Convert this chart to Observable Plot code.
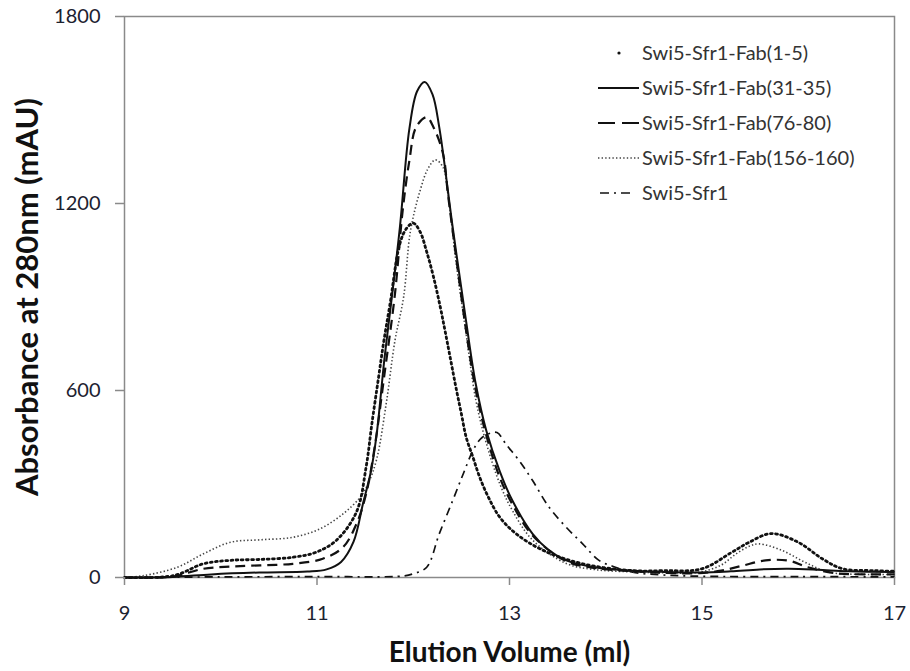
<!DOCTYPE html>
<html><head><meta charset="utf-8">
<script src="https://cdn.jsdelivr.net/npm/d3@7"></script>
<script src="https://cdn.jsdelivr.net/npm/@observablehq/plot@0.6"></script>
<style>
body{margin:0;background:#fff;}
#wrap{position:relative;width:910px;height:671px;font-family:Lato,"Open Sans",sans-serif;}
#wrap svg{position:absolute;left:0;top:0;}
</style></head><body><div id="wrap"></div>
<script>
// Series names (legend order)
const seriesNames = ["Swi5-Sfr1-Fab(1-5)", "Swi5-Sfr1-Fab(31-35)", "Swi5-Sfr1-Fab(76-80)", "Swi5-Sfr1-Fab(156-160)", "Swi5-Sfr1"];

// Axis ticks
const xTicks = [9, 11, 13, 15, 17];
const yTicks = [0, 600, 1200, 1800];

// [elution volume (ml), absorbance (mAU)]
const fab1_5 = [[9.0,0],[9.51,6],[9.82,44],[10.1,55],[10.41,58],[10.75,65],[10.99,81],[11.2,119],[11.41,210],[11.51,354],[11.57,493],[11.64,643],[11.69,750],[11.76,880],[11.86,1070],[11.93,1120],[12.0,1137],[12.07,1110],[12.14,1045],[12.21,965],[12.28,869],[12.33,792],[12.38,712],[12.45,600],[12.5,525],[12.55,450],[12.62,386],[12.69,322],[12.78,258],[12.9,193],[13.07,140],[13.35,87],[13.76,44],[14.28,22],[14.6,22],[15.0,28],[15.31,81],[15.49,113],[15.72,141],[16.0,113],[16.25,60],[16.46,28],[16.8,22],[17.0,20]];

const fab31_35 = [[9.0,0],[9.5,2],[9.9,10],[10.4,16],[10.9,19],[11.1,26],[11.25,50],[11.38,115],[11.48,240],[11.56,340],[11.62,460],[11.7,700],[11.77,880],[11.86,1120],[11.96,1440],[12.04,1560],[12.12,1590],[12.2,1550],[12.27,1445],[12.41,1123],[12.55,820],[12.65,620],[12.76,470],[12.9,340],[13.03,247],[13.24,140],[13.4,90],[13.59,55],[13.9,32],[14.28,22],[14.6,18],[14.97,16],[15.3,20],[15.6,26],[15.9,28],[16.2,25],[16.52,20],[17.0,18]];

const fab76_80 = [[9.0,0],[9.5,3],[9.82,28],[10.1,35],[10.41,39],[10.75,44],[11.06,60],[11.27,97],[11.41,172],[11.51,268],[11.6,420],[11.7,650],[11.81,910],[11.89,1177],[11.96,1338],[12.03,1445],[12.14,1477],[12.21,1445],[12.31,1359],[12.36,1231],[12.45,1017],[12.55,790],[12.65,600],[12.76,455],[12.9,320],[13.03,235],[13.24,135],[13.59,52],[13.9,30],[14.28,20],[14.6,15],[14.97,14],[15.2,22],[15.42,38],[15.66,55],[15.9,54],[16.1,33],[16.38,14],[16.7,10],[17.0,10]];

const fab156_160 = [[9.0,0],[9.2,6],[9.55,33],[9.82,76],[10.1,113],[10.41,121],[10.75,129],[11.03,156],[11.27,204],[11.45,258],[11.53,300],[11.62,380],[11.72,560],[11.81,760],[11.9,900],[11.97,1110],[12.07,1240],[12.15,1310],[12.23,1340],[12.31,1316],[12.36,1231],[12.45,1000],[12.55,780],[12.65,570],[12.76,430],[12.9,300],[13.03,215],[13.24,120],[13.59,45],[13.9,25],[14.28,18],[14.6,15],[14.97,17],[15.2,40],[15.35,75],[15.49,100],[15.59,108],[15.83,87],[16.07,49],[16.32,17],[16.7,10],[17.0,10]];

const swi5sfr1 = [[9.0,0],[10.0,2],[11.0,3],[11.9,5],[12.0,12],[12.14,33],[12.27,140],[12.41,247],[12.52,333],[12.62,407],[12.7,445],[12.79,462],[12.87,465],[12.97,425],[13.1,375],[13.24,311],[13.41,226],[13.59,161],[13.76,108],[13.93,55],[14.1,33],[14.28,17],[14.6,8],[15.0,4],[16.0,3],[17.0,2]];

const allSeries = [fab1_5, fab31_35, fab76_80, fab156_160, swi5sfr1];

// line styles, one per series
const styles = [
  {stroke: "#111", strokeWidth: 2.8, dash: "1.8,3.4", cap: "round"},
  {stroke: "#111", strokeWidth: 2, dash: null, cap: "butt"},
  {stroke: "#111", strokeWidth: 2.2, dash: "10,6", cap: "butt"},
  {stroke: "#444", strokeWidth: 1.6, dash: "1.4,2.2", cap: "butt"},
  {stroke: "#111", strokeWidth: 1.7, dash: "8,5,2,5", cap: "butt"}
];

const W = 910, H = 671;
const gray = "#8a8a8a";
const textFont = "Lato, 'Open Sans', sans-serif";

const lineMarks = allSeries.map((s, i) => Plot.line(s, {
  x: d => d[0], y: d => d[1], curve: "catmull-rom",
  stroke: styles[i].stroke, strokeWidth: styles[i].strokeWidth,
  strokeDasharray: styles[i].dash, strokeLinecap: styles[i].cap
})).reverse();

const chart = Plot.plot({
  width: W, height: H,
  marginLeft: 124, marginRight: 16, marginTop: 16, marginBottom: 94,
  style: {fontFamily: textFont, background: "#fff", overflow: "visible"},
  x: {domain: [9, 17]},
  y: {domain: [0, 1800]},
  marks: [
    Plot.frame({stroke: gray, strokeWidth: 1.5}),
    ...lineMarks,
    Plot.axisX({ticks: xTicks, tickFormat: d => String(d), tickSize: 8, tickPadding: 20, fontSize: 20, label: null, stroke: gray, strokeWidth: 1.5, color: "#1c2230"}),
    Plot.axisY({ticks: yTicks, tickFormat: d => String(d), tickSize: 9, tickPadding: 15, fontSize: 20, label: null, stroke: gray, strokeWidth: 1.5, color: "#1c2230"}),
    Plot.text(["Elution Volume (ml)"], {frameAnchor: "bottom", textAnchor: "middle", dy: 84, fontSize: 28, fontWeight: "bold", fill: "#111"}),
    Plot.text(["Absorbance at 280nm (mAU)"], {frameAnchor: "left", textAnchor: "middle", dx: -96, rotate: -90, fontSize: 31, fontWeight: "bold", fill: "#111"})
  ]
});
document.getElementById("wrap").appendChild(chart);

// Legend overlay (inside plot area, top right)
const leg = d3.select("#wrap").append("svg").attr("width", W).attr("height", H)
  .style("pointer-events", "none");
const lx0 = 598, lx1 = 639, ly0 = 53, ldy = 35;
seriesNames.forEach((name, i) => {
  const y = ly0 + i * ldy;
  const st = styles[i];
  if (i === 0) {
    leg.append("circle").attr("cx", 619).attr("cy", y).attr("r", 1.6).attr("fill", "#111");
  } else {
    leg.append("line").attr("x1", i === 4 ? 600 : lx0).attr("x2", i === 4 ? 632 : lx1)
      .attr("y1", y).attr("y2", y)
      .attr("stroke", st.stroke).attr("stroke-width", st.strokeWidth)
      .attr("stroke-dasharray", i === 2 ? "17,7" : (i === 4 ? "9,5,2,5" : st.dash));
  }
  leg.append("text").attr("x", 642).attr("y", y).attr("dy", "0.35em")
    .attr("font-family", textFont).attr("font-size", 20).attr("fill", "#333")
    .text(name);
});
</script></body></html>
